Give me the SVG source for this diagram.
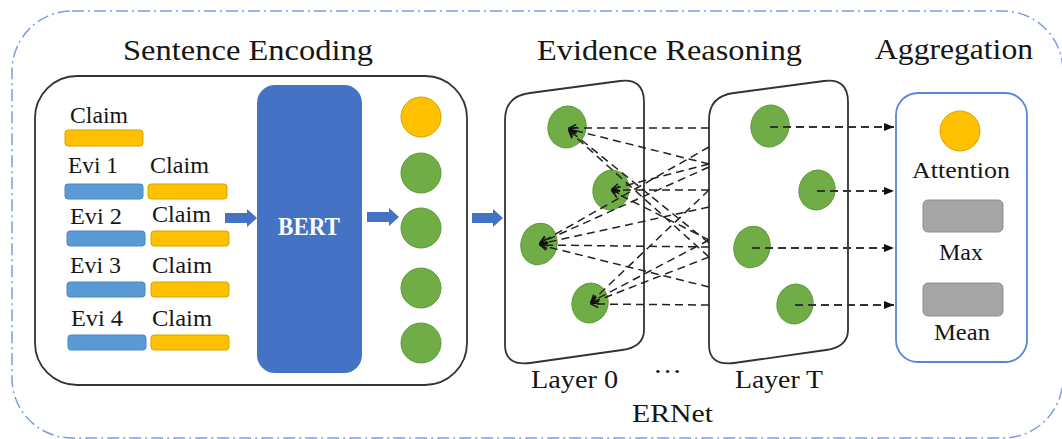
<svg xmlns="http://www.w3.org/2000/svg" width="1062" height="439" viewBox="0 0 1062 439">
<style>
text{font-family:"Liberation Serif","Times New Roman",serif;fill:#161616}
.title{font-size:30px}
.lbl{font-size:23px}
.big{font-size:26px}
.orange{fill:#FFC000;stroke:#D9A400;stroke-width:1}
.blue{fill:#5B9BD5;stroke:#4A86BE;stroke-width:1}
.green{fill:#70AD47;stroke:#5F9A3B;stroke-width:1}
.grey{fill:#A5A5A5;stroke:#8E8E8E;stroke-width:1}
.blk{fill:#4472C4}
.layer{fill:none;stroke:#333;stroke-width:1.8}
.er{stroke:#222;stroke-width:1.5;stroke-dasharray:8 5;fill:none;marker-end:url(#oa)}
.ag{stroke:#333;stroke-width:2;stroke-dasharray:8 5;fill:none;marker-end:url(#fa)}
</style>
<defs>
<marker id="oa" viewBox="0 0 10 10" refX="9" refY="5" markerWidth="9" markerHeight="9" orient="auto" markerUnits="userSpaceOnUse">
<path d="M1,1 L9,5 L1,9" fill="none" stroke="#111" stroke-width="1.6"/>
</marker>
<marker id="fa" viewBox="0 0 10 10" refX="10" refY="5" markerWidth="11" markerHeight="10" orient="auto" markerUnits="userSpaceOnUse">
<path d="M0,1 L10,5 L0,9 Z" fill="#111"/>
</marker>
</defs>
<rect width="1062" height="439" fill="#fff"/>
<rect id="outer" x="12" y="11" width="1051" height="427" rx="60" fill="none" stroke="#7A9EDF" stroke-width="1.5" stroke-dasharray="12 4 2 4"/>

<text class="title" x="123" y="60" textLength="250" lengthAdjust="spacingAndGlyphs">Sentence Encoding</text>
<text class="title" x="537" y="60" textLength="265" lengthAdjust="spacingAndGlyphs">Evidence Reasoning</text>
<text class="title" x="875" y="59" textLength="158" lengthAdjust="spacingAndGlyphs">Aggregation</text>

<g id="sentence-encoding">
<rect x="35" y="76" width="432" height="309" rx="42" fill="none" stroke="#333" stroke-width="1.8"/>
<text class="lbl" x="70" y="123" textLength="58" lengthAdjust="spacingAndGlyphs">Claim</text>
<rect class="orange" x="65" y="130" width="78" height="16" rx="3"/>
<text class="lbl" x="68" y="173" textLength="50" lengthAdjust="spacingAndGlyphs">Evi 1</text>
<text class="lbl" x="150" y="173" textLength="59" lengthAdjust="spacingAndGlyphs">Claim</text>
<rect class="blue" x="65" y="184" width="78" height="15" rx="3"/>
<rect class="orange" x="148" y="184" width="79" height="15" rx="3"/>
<text class="lbl" x="70" y="224" textLength="52" lengthAdjust="spacingAndGlyphs">Evi 2</text>
<text class="lbl" x="152" y="222" textLength="59" lengthAdjust="spacingAndGlyphs">Claim</text>
<rect class="blue" x="67" y="231" width="78" height="15" rx="3"/>
<rect class="orange" x="151" y="231" width="78" height="15" rx="3"/>
<text class="lbl" x="70" y="273" textLength="51" lengthAdjust="spacingAndGlyphs">Evi 3</text>
<text class="lbl" x="152" y="273" textLength="60" lengthAdjust="spacingAndGlyphs">Claim</text>
<rect class="blue" x="67" y="282" width="78" height="15" rx="3"/>
<rect class="orange" x="151" y="282" width="78" height="15" rx="3"/>
<text class="lbl" x="71" y="326" textLength="52" lengthAdjust="spacingAndGlyphs">Evi 4</text>
<text class="lbl" x="152" y="326" textLength="60" lengthAdjust="spacingAndGlyphs">Claim</text>
<rect class="blue" x="68" y="335" width="78" height="15" rx="3"/>
<rect class="orange" x="151" y="335" width="78" height="15" rx="3"/>
</g>

<g id="bert">
<rect class="blk" x="257" y="85" width="105" height="288" rx="18"/>
<text x="278" y="235" font-size="25" font-weight="bold" style="fill:#fff" textLength="62" lengthAdjust="spacingAndGlyphs">BERT</text>
</g>

<g id="embeddings">
<circle class="orange" cx="421" cy="117" r="20"/>
<circle class="green" cx="421" cy="173" r="20"/>
<circle class="green" cx="421" cy="228" r="20"/>
<circle class="green" cx="421" cy="288" r="20"/>
<circle class="green" cx="421" cy="343" r="20"/>
</g>

<g id="block-arrows">
<path class="blk" d="M225,213 L247,213 L247,209 L257,218 L247,227 L247,223 L225,223 Z"/>
<path class="blk" d="M367,212 L389,212 L389,208 L399,217 L389,226 L389,222 L367,222 Z"/>
<path class="blk" d="M472,213 L493,213 L493,209 L503,218 L493,227 L493,223 L472,223 Z"/>
</g>

<g id="layer-0">
<path class="layer" d="M505,120 Q505,96 530,93 L620,81 Q644,78 644,102 L644,330 Q644,347 622,350 L530,363 Q505,366 505,345 Z"/>
<ellipse class="green" cx="567" cy="127" rx="19" ry="21" transform="rotate(15 567 127)"/>
<ellipse class="green" cx="611" cy="190" rx="18" ry="20" transform="rotate(15 611 190)"/>
<ellipse class="green" cx="539" cy="244" rx="18" ry="21" transform="rotate(15 539 244)"/>
<ellipse class="green" cx="590" cy="303" rx="18" ry="20" transform="rotate(15 590 303)"/>
</g>

<g id="layer-t">
<path class="layer" d="M709,120 Q709,96 734,93 L824,81 Q848,78 848,102 L848,330 Q848,347 826,350 L734,363 Q709,366 709,345 Z"/>
<ellipse class="green" cx="770" cy="126" rx="19" ry="21" transform="rotate(15 770 126)"/>
<ellipse class="green" cx="817" cy="190" rx="18" ry="20" transform="rotate(15 817 190)"/>
<ellipse class="green" cx="752" cy="247" rx="18" ry="21" transform="rotate(15 752 247)"/>
<ellipse class="green" cx="795" cy="304" rx="18" ry="20" transform="rotate(15 795 304)"/>
</g>

<g id="aggregation">
<rect x="896" y="93" width="131" height="269" rx="22" fill="none" stroke="#5B84D6" stroke-width="1.8"/>
<circle class="orange" cx="960" cy="131" r="20"/>
<text class="lbl" x="961" y="178" text-anchor="middle" textLength="98" lengthAdjust="spacingAndGlyphs">Attention</text>
<rect class="grey" x="923" y="200" width="80" height="32" rx="5"/>
<text class="lbl" x="961" y="260" text-anchor="middle" textLength="44" lengthAdjust="spacingAndGlyphs">Max</text>
<rect class="grey" x="923" y="283" width="80" height="33" rx="5"/>
<text class="lbl" x="962" y="340" text-anchor="middle" textLength="56" lengthAdjust="spacingAndGlyphs">Mean</text>
</g>

<g id="connectors">
<line class="er" x1="709" y1="128" x2="569" y2="128"/>
<line class="er" x1="709" y1="164" x2="569" y2="129"/>
<line class="er" x1="709" y1="243" x2="569" y2="130"/>
<line class="er" x1="709" y1="257" x2="569" y2="131"/>
<line class="er" x1="709" y1="190" x2="612" y2="190"/>
<line class="er" x1="709" y1="240" x2="612" y2="191"/>
<line class="er" x1="709" y1="164" x2="612" y2="189"/>
<line class="er" x1="709" y1="147" x2="540" y2="243"/>
<line class="er" x1="709" y1="167" x2="540" y2="243"/>
<line class="er" x1="709" y1="207" x2="540" y2="244"/>
<line class="er" x1="709" y1="247" x2="540" y2="245"/>
<line class="er" x1="709" y1="287" x2="540" y2="245"/>
<line class="er" x1="709" y1="190" x2="591" y2="302"/>
<line class="er" x1="709" y1="240" x2="591" y2="302"/>
<line class="er" x1="709" y1="257" x2="591" y2="303"/>
<line class="er" x1="709" y1="305" x2="591" y2="304"/>
<line class="ag" x1="770" y1="127" x2="894" y2="127"/>
<line class="ag" x1="817" y1="191" x2="894" y2="191"/>
<line class="ag" x1="752" y1="248" x2="894" y2="248"/>
<line class="ag" x1="795" y1="305" x2="894" y2="305"/>
</g>

<text class="big" x="531" y="388" textLength="87" lengthAdjust="spacingAndGlyphs">Layer 0</text>
<text class="big" x="735" y="388" textLength="88" lengthAdjust="spacingAndGlyphs">Layer T</text>
<text class="big" x="653" y="380" textLength="29" lengthAdjust="spacingAndGlyphs">···</text>
<text class="big" x="632" y="422" textLength="81" lengthAdjust="spacingAndGlyphs">ERNet</text>
</svg>
